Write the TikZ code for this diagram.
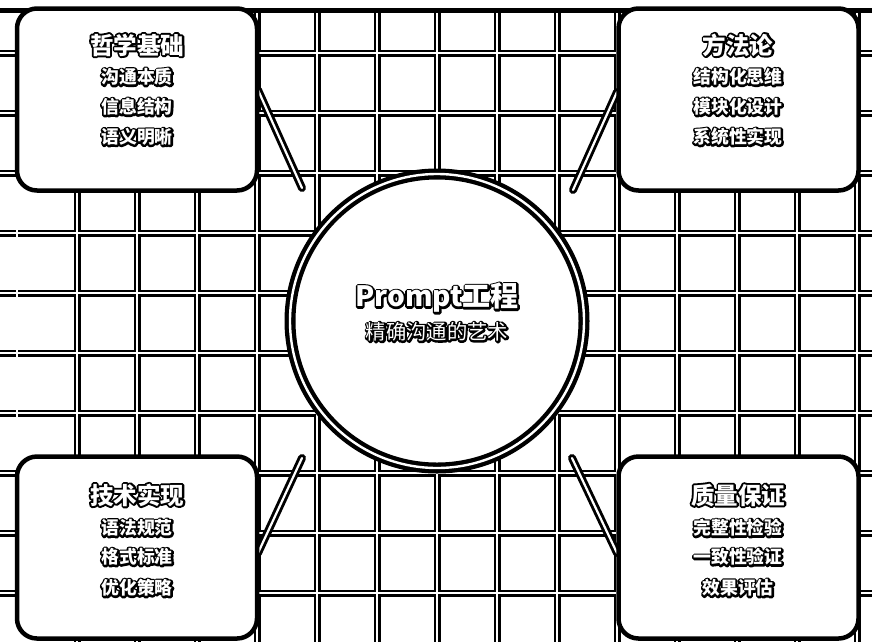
\documentclass[tikz,border=0pt]{standalone}
\usepackage{fontspec}
\newfontfamily\cjk{Noto Sans CJK SC}
\newcommand\outl[1]{\leavevmode\rlap{\color{black}\special{pdf:literal direct 2 Tr 3.8 w 1 j}#1\special{pdf:literal direct 0 Tr}}#1}
\begin{document}
\begin{tikzpicture}[x=1pt,y=-1pt,
  gridblack/.style={line width=7pt, draw=black},
  gridwhite/.style={line width=1.1pt, draw=white},
  linkblack/.style={line width=8pt, draw=black, line cap=round},
  linkwhite/.style={line width=2.2pt, draw=white, line cap=round},
  card/.style={draw=black, line width=4.5pt, fill=white, rounded corners=20pt,
    minimum width=240pt, minimum height=182pt, inner sep=0pt},
  hub/.style={circle, draw=black, line width=11pt, fill=white, minimum size=294pt, inner sep=0pt},
  ttl/.style={font={\cjk\bfseries\fontsize{23.5}{27}\selectfont}, inner sep=0pt, text=white},
  itm/.style={font={\cjk\bfseries\fontsize{17.8}{21}\selectfont}, inner sep=0pt, text=white},
  ctitle/.style={font={\cjk\bfseries\fontsize{28}{32}\selectfont}, inner sep=0pt, text=white},
  csub/.style={font={\cjk\fontsize{20.3}{24}\selectfont}, inner sep=0pt, text=white}]
\useasboundingbox (0,0) rectangle (872,641);
% grid
\foreach \k in {1,...,14}{\draw[gridblack] ({17+60*\k},10) -- ({17+60*\k},650);}
\foreach \k in {0,...,9}{\draw[gridblack] (-5,{53+60*\k}) -- (877,{53+60*\k});}
\foreach \k in {0,...,14}{\draw[gridwhite] ({17+60*\k},12) -- ({17+60*\k},650);}
\foreach \k in {0,...,9}{\draw[gridwhite] (-5,{53+60*\k}) -- (877,{53+60*\k});}
\draw[line width=5pt, black] (-5,10) -- (877,10);
% connector ends
\coordinate (tla) at (258,90);
\coordinate (tlb) at (302,188);
\coordinate (tra) at (617,92);
\coordinate (trb) at (573,190);
\coordinate (bla) at (258,553);
\coordinate (blb) at (302,458);
\coordinate (bra) at (617,553);
\coordinate (brb) at (572,458);
\foreach \a/\b in {tla/tlb,tra/trb,bla/blb,bra/brb}{\draw[linkblack] (\a) -- (\b);}
\foreach \a/\b in {tla/tlb,tra/trb,bla/blb,bra/brb}{\draw[linkwhite] (\a) -- (\b);}
% cards
\node[card] (tl) at (137,99.5) {};
\node[card] (tr) at (738.5,99.5) {};
\node[card] (bl) at (137,547.5) {};
\node[card] (br) at (738.5,547.5) {};
% hub
\node[hub] (c) at (437,321) {};
\draw[white, line width=2.4pt] (c.center) circle[radius=147];
% texts
\node[ctitle] (ct) at (437,298) {\outl{Prompt工程}};
\node[csub] (cs) at (437,332) {\outl{精确沟通的艺术}};
\node[ttl] (tl0) at (137,45) {\outl{哲学基础}};
\node[itm] (tl1) at (137,77) {\outl{沟通本质}};
\node[itm] (tl2) at (137,107) {\outl{信息结构}};
\node[itm] (tl3) at (137,137) {\outl{语义明晰}};
\node[ttl] (tr0) at (738,45) {\outl{方法论}};
\node[itm] (tr1) at (738,77) {\outl{结构化思维}};
\node[itm] (tr2) at (738,107) {\outl{模块化设计}};
\node[itm] (tr3) at (738,137) {\outl{系统性实现}};
\node[ttl] (bl0) at (137,495) {\outl{技术实现}};
\node[itm] (bl1) at (137,528) {\outl{语法规范}};
\node[itm] (bl2) at (137,557) {\outl{格式标准}};
\node[itm] (bl3) at (137,588) {\outl{优化策略}};
\node[ttl] (br0) at (738,495) {\outl{质量保证}};
\node[itm] (br1) at (738,528) {\outl{完整性检验}};
\node[itm] (br2) at (738,557) {\outl{一致性验证}};
\node[itm] (br3) at (738,588) {\outl{效果评估}};
\end{tikzpicture}
\end{document}
